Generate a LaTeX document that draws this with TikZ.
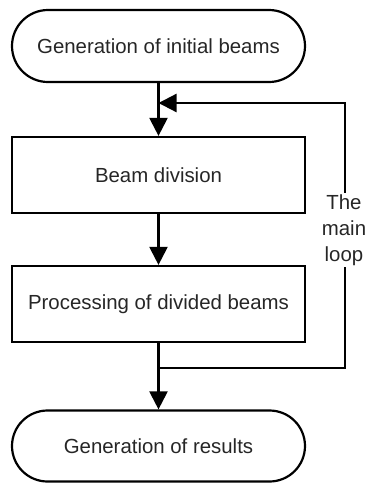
\documentclass[tikz,border=0pt]{standalone}
\usepackage{fontspec}
\setmainfont{Liberation Sans}
\usetikzlibrary{arrows.meta}
\begin{document}
\begin{tikzpicture}[x=1pt,y=-1pt,
  every node/.style={font=\fontsize{20.4}{26}\selectfont, text=black!85},
  termbox/.style={draw, line width=2.2pt, minimum width=293pt, minimum height=72pt, rounded corners=36pt, inner sep=0pt},
  procbox/.style={draw, line width=2.2pt, minimum width=293pt, minimum height=76pt, inner sep=0pt},
  conn/.style={line width=2.2pt, -{Triangle[length=18pt,width=18pt]}},
  plain/.style={line width=2.2pt}]
\useasboundingbox (0,0) rectangle (365,483);
\node[termbox] (t1) at (158.5,46) {Generation of initial beams};
\node[procbox] (b1) at (158.5,175) {Beam division};
\node[procbox] (b2) at (158.5,304) {Processing of divided beams};
\node[termbox, minimum height=71pt, rounded corners=35.5pt] (t2) at (158.5,446) {Generation of results};
\coordinate (j) at (158.5,368);
\coordinate (jr) at (345,368);
\coordinate (tr) at (345,103);
\coordinate (m) at (158.5,103);
\node[align=center, minimum height=74pt, inner sep=0pt] (lab) at (344,230) {The\\main\\loop};
\draw[conn] (t1.south) -- (b1.north);
\draw[conn] (b1.south) -- (b2.north);
\draw[conn] (b2.south) -- (t2.north);
\draw[plain] (j) -- (jr) -- (jr |- lab.south);
\draw[conn] (tr |- lab.north) -- (tr) -- (m);
\end{tikzpicture}
\end{document}
